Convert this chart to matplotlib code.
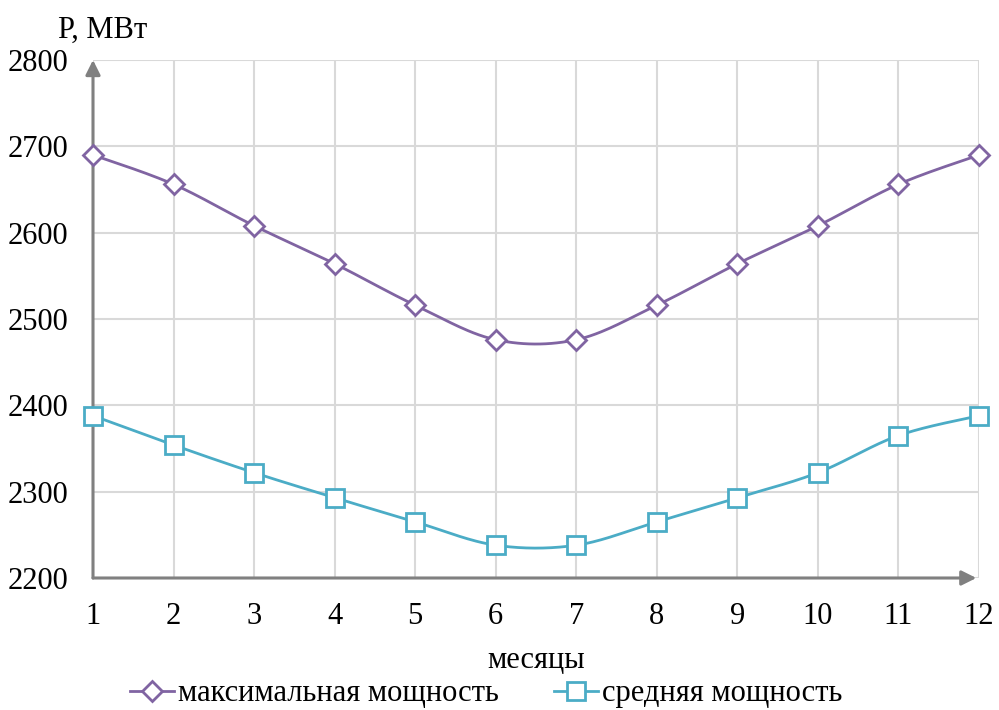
import numpy as np
import matplotlib
matplotlib.use("Agg")
import matplotlib.pyplot as plt
from matplotlib.lines import Line2D

plt.rcParams['font.family'] = ['Liberation Serif', 'DejaVu Serif']

months = [1, 2, 3, 4, 5, 6, 7, 8, 9, 10, 11, 12]
p_max = [2690, 2656, 2608, 2564, 2516, 2476, 2476, 2516, 2564, 2608, 2656, 2690]
p_avg = [2388, 2354, 2322, 2293, 2265, 2238, 2238, 2265, 2293, 2322, 2365, 2388]
y_ticks = [2200, 2300, 2400, 2500, 2600, 2700, 2800]

label_max = "максимальная мощность"
label_avg = "средняя мощность"

c_max = "#8064a2"
c_avg = "#4bacc6"
axis_grey = "#808080"
grid_grey = "#d9d9d9"
FS = 22


def smooth(x, y, n=30):
    """Cubic Bezier smoothing through every point (Catmull-Rom style)."""
    x = np.asarray(x, float)
    y = np.asarray(y, float)
    pts = np.column_stack([x, y])
    ext = np.vstack([pts[0], pts, pts[-1]])
    out = []
    t = np.linspace(0, 1, n)[:, None]
    for i in range(len(pts) - 1):
        p0, p1, p2, p3 = ext[i], ext[i + 1], ext[i + 2], ext[i + 3]
        c1 = p1 + (p2 - p0) / 6.0
        c2 = p2 - (p3 - p1) / 6.0
        seg = ((1 - t) ** 3) * p1 + 3 * ((1 - t) ** 2) * t * c1 \
            + 3 * (1 - t) * t ** 2 * c2 + t ** 3 * p2
        out.append(seg if i == 0 else seg[1:])
    out = np.vstack(out)
    return out[:, 0], out[:, 1]


fig = plt.figure(figsize=(9.99, 7.10), dpi=100)
ax = fig.add_axes([93 / 999, 1 - 578 / 710, 886 / 999, 518 / 710])

ax.set_xlim(1, 12)
ax.set_ylim(2200, 2800)
ax.set_xticks(months)
ax.set_yticks(y_ticks)
ax.grid(True, color=grid_grey, lw=1.5)
ax.set_axisbelow(True)
for s in ax.spines.values():
    s.set_visible(False)
ax.tick_params(length=0, labelsize=FS)
ax.tick_params(axis='x', pad=17)
ax.tick_params(axis='y', pad=18)

for xs, ys, col, mk, ms in [(months, p_max, c_max, 'D', 10),
                            (months, p_avg, c_avg, 's', 13)]:
    sx, sy = smooth(xs, ys)
    ax.plot(sx, sy, color=col, lw=2, zorder=3, clip_on=False)
    ax.plot(xs, ys, ls='none', marker=mk, ms=ms, mfc='white', mec=col,
            mew=2, zorder=4, clip_on=False)

# axis arrows
ax.annotate('', xy=(0, 1.0), xytext=(0, 0), xycoords='axes fraction',
            arrowprops=dict(arrowstyle='-|>', color=axis_grey, lw=2.2,
                            mutation_scale=22, shrinkA=0, shrinkB=0), zorder=2)
ax.annotate('', xy=(0.997, 0), xytext=(0, 0), xycoords='axes fraction',
            arrowprops=dict(arrowstyle='-|>', color=axis_grey, lw=2.2,
                            mutation_scale=22, shrinkA=0, shrinkB=0), zorder=2)

fig.text(103 / 999, 1 - 30 / 710, "Р, МВт", fontsize=FS, ha='center', va='center')
fig.text(536 / 999, 1 - 661 / 710, "месяцы", fontsize=FS, ha='center', va='center')

handles = [
    Line2D([], [], color=c_max, lw=2, marker='D', ms=10, mfc='white', mec=c_max, mew=2),
    Line2D([], [], color=c_avg, lw=2, marker='s', ms=13, mfc='white', mec=c_avg, mew=2),
]
fig.legend(handles, [label_max, label_avg], loc='center', ncol=2,
           bbox_to_anchor=(486 / 999, 1 - 694 / 710), frameon=False,
           fontsize=FS, handlelength=1.45, handletextpad=0.12, columnspacing=1.8,
           borderaxespad=0, borderpad=0)

fig.savefig("out.png", dpi=100)
